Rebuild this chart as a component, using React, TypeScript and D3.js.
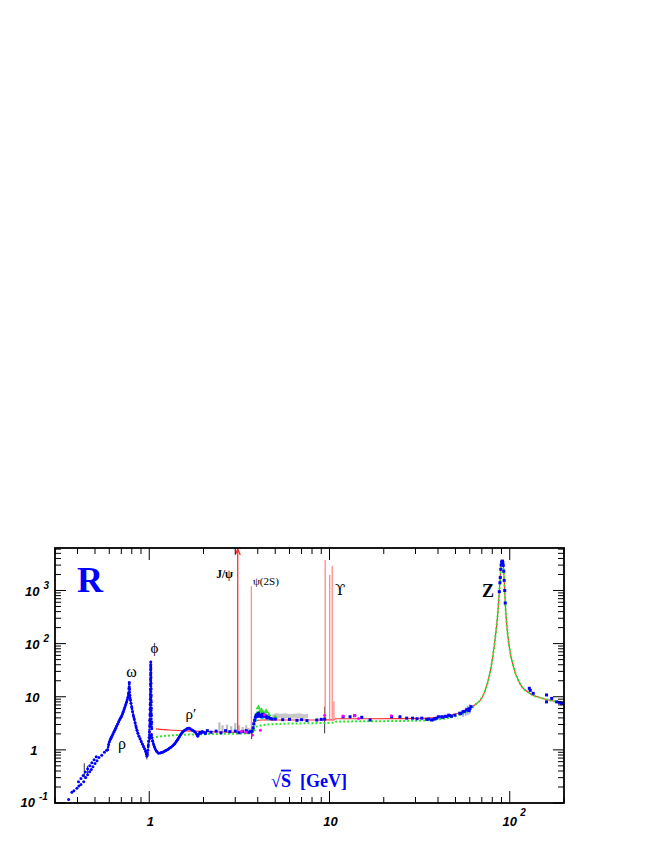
import React from 'react';
import * as d3 from 'd3';

type P = [number, number];
type Bar = [number, number, number];

// ---------------- data (sqrt(s) in GeV, R) ----------------
const lowEnergyRow1: P[] = [
  [0.357, 0.117], [0.372, 0.159], [0.382, 0.17], [0.397, 0.189], [0.407, 0.208], [0.418, 0.224],
  [0.433, 0.251], [0.444, 0.303], [0.455, 0.34], [0.467, 0.387], [0.477, 0.429], [0.487, 0.48],
  [0.5, 0.556], [0.513, 0.622], [0.526, 0.72], [0.545, 0.796], [0.564, 0.905], [0.58, 0.98],
];
const lowEnergyRow2: P[] = [
  [0.405, 0.25], [0.418, 0.29], [0.43, 0.33], [0.442, 0.385], [0.455, 0.44], [0.468, 0.5],
  [0.48, 0.57], [0.494, 0.65], [0.508, 0.74],
];
const hadronScan: P[] = [
  [0.588, 1.0], [0.595, 1.25], [0.6, 1.4], [0.607, 1.55], [0.613, 1.65], [0.62, 1.78], [0.628, 1.95],
  [0.636, 2.15], [0.644, 2.35], [0.652, 2.55], [0.66, 2.8], [0.668, 3.05], [0.676, 3.35], [0.684, 3.65],
  [0.692, 3.95], [0.7, 4.2], [0.708, 4.6], [0.716, 5.1], [0.724, 5.7], [0.732, 6.3], [0.74, 7.1],
  [0.748, 7.9], [0.755, 8.8], [0.762, 9.8], [0.768, 11.5], [0.772, 14.5], [0.775, 18.5], [0.778, 14],
  [0.781, 10.5], [0.786, 8.8], [0.792, 7.5], [0.8, 6.3], [0.808, 5.2], [0.816, 4.4], [0.825, 3.8],
  [0.835, 3.2], [0.845, 2.7], [0.855, 2.35], [0.865, 2.05], [0.877, 1.8], [0.89, 1.6], [0.903, 1.42],
  [0.916, 1.28], [0.93, 1.15], [0.943, 1.04], [0.955, 0.93], [0.963, 0.84], [0.97, 0.76], [0.976, 0.82],
  [0.982, 0.98], [0.988, 1.2], [0.993, 1.45],
  [1.028, 1.95], [1.035, 1.7], [1.045, 1.45], [1.058, 1.25], [1.07, 1.12], [1.085, 1.0], [1.1, 0.93],
  [1.115, 0.88], [1.13, 0.86], [1.15, 0.87], [1.17, 0.89], [1.19, 0.9], [1.21, 0.93], [1.23, 0.96],
  [1.25, 0.99], [1.27, 1.02], [1.29, 1.06], [1.31, 1.1], [1.33, 1.14], [1.35, 1.19], [1.37, 1.25],
  [1.39, 1.32], [1.41, 1.42], [1.43, 1.52], [1.45, 1.64], [1.47, 1.77], [1.49, 1.9], [1.51, 2.03],
  [1.53, 2.15], [1.55, 2.25], [1.57, 2.33], [1.6, 2.42], [1.63, 2.52], [1.66, 2.55], [1.69, 2.48],
  [1.72, 2.38], [1.75, 2.3], [1.78, 2.22], [1.81, 2.1], [1.84, 1.92], [1.86, 1.8], [1.88, 1.95],
  [1.91, 2.15], [1.94, 2.05], [1.97, 2.2], [2.0, 2.15],
];
const phiScan: P[] = [
  [0.998, 1.7], [1.002, 2.2], [1.005, 2.8], [1.007, 3.6], [1.009, 4.6], [1.011, 5.8], [1.012, 7.2],
  [1.013, 9], [1.014, 11], [1.015, 13.5], [1.016, 17], [1.017, 21], [1.018, 26], [1.019, 32],
  [1.0195, 38], [1.02, 45], [1.0205, 40], [1.021, 34], [1.0215, 28], [1.022, 23], [1.023, 18],
  [1.024, 14], [1.025, 10.5], [1.026, 8], [1.027, 6], [1.028, 4.5], [1.03, 3.3], [1.033, 2.5],
];
const thresholdBlue: P[] = [
  [2.05, 2.05], [2.1, 2.3], [2.2, 2.15], [2.35, 2.25], [2.5, 2.1], [2.65, 2.3], [2.8, 2.2], [3.0, 2.25],
  [3.15, 2.1], [3.3, 2.2], [3.45, 2.3], [3.55, 2.15], [3.65, 2.2], [3.72, 2.25], [3.77, 2.6], [3.8, 3.1],
  [3.84, 3.6], [3.88, 4.1], [3.92, 4.5], [3.96, 4.3], [4.0, 4.6], [4.03, 4.9], [4.06, 4.6], [4.1, 4.3],
  [4.14, 4.5], [4.18, 4.2], [4.22, 4.4], [4.26, 4.7], [4.3, 4.5], [4.35, 4.3], [4.4, 4.5], [4.45, 4.2],
  [4.5, 4.0], [4.6, 4.1], [4.7, 3.9], [4.8, 3.8], [5.0, 3.8], [5.5, 3.7], [6.0, 3.75], [6.6, 3.6],
  [7.0, 3.7], [7.5, 3.55], [8.5, 3.65], [9.0, 3.75],
];
const highEnergyBlue: P[] = [
  [9.4, 3.8], [11.9, 4.2], [13.0, 4.2], [13.8, 4.4], [15.1, 4.1], [16.8, 3.65], [22.1, 4.2], [24.6, 4.2],
  [26.8, 3.95], [28.9, 3.95], [30.6, 3.85], [32.5, 3.95], [34.6, 3.75], [35.5, 3.8], [36.8, 3.65],
  [37.5, 3.7], [38.4, 3.85], [39.4, 3.95], [40.2, 4.2], [41.9, 4.2], [42.5, 4.1], [43.8, 4.3],
  [44.5, 4.25], [45.8, 4.5], [46.5, 4.4], [47.5, 4.3], [49.6, 4.5], [52.8, 4.9], [53.5, 4.8],
  [55.0, 5.2], [56.0, 5.3], [57.5, 5.6], [58.5, 5.8], [59.5, 5.5], [60.1, 6.0], [61.0, 6.5],
];
const zPeakBlue: P[] = [
  [87.5, 950], [88.2, 1400], [88.6, 1750], [89.2, 2500], [89.6, 3000], [90.2, 3400], [90.6, 3550],
  [91.2, 3550], [91.6, 3300], [92.0, 2950], [92.6, 2300], [93.2, 1550], [93.8, 1000], [94.4, 580],
];
const aboveZBlue: P[] = [
  [128.4, 14.4], [130, 13.2], [135, 11.6], [160, 10.8], [160, 8.0], [171, 9.3], [182, 8.0], [189, 7.8], [194, 7.5],
];
const greenTriangles: P[] = [
  [3.78, 2.4], [3.95, 4.7], [4.03, 6.2], [4.1, 5.2], [4.2, 5.5], [4.3, 4.8], [4.45, 5.3], [4.6, 4.6], [5.0, 4.1],
];
const magentaPoints: P[] = [
  [3.25, 2.25], [3.45, 2.15], [3.74, 1.9], [4.14, 2.35], [4.35, 4.6], [9.4, 4.5], [11.9, 4.35],
  [13.8, 4.45], [14.5, 3.9], [22, 4.4],
];
const cyanPoints: P[] = [
  [3.82, 3.0], [3.9, 3.6], [4.0, 4.2], [4.25, 4.0], [4.6, 3.8],
];
const grayBars: Bar[] = [
  [2.45, 2.3, 3.3], [2.55, 2.2, 2.9], [2.7, 2.1, 3.0], [2.85, 2.2, 2.8], [3.0, 2.1, 3.2],
  [3.15, 2.2, 2.9], [3.3, 2.1, 2.7], [3.45, 2.2, 2.9], [3.55, 2.1, 2.6], [3.62, 2.0, 2.5],
];
const grayBand: Bar[] = [
  [4.8, 3.9, 4.6], [5.1, 3.9, 4.9], [5.4, 4.0, 4.8], [5.7, 3.9, 4.9], [6.0, 4.0, 4.7],
  [6.4, 3.9, 4.8], [6.8, 4.0, 4.9], [7.2, 3.9, 4.7], [7.6, 4.0, 4.8],
];
const lightBlueBars: Bar[] = [
  [55, 4.2, 5.6], [57, 4.4, 6.2], [58.5, 4.6, 6.8], [60, 4.8, 7.2],
];
const darkBars: Bar[] = [
  [0.436, 0.29, 0.56], [0.455, 0.33, 0.5], [0.97, 0.66, 0.9], [3.7, 1.6, 2.7], [9.4, 2.05, 6.5],
];
const qcdLow: P[] = [
  [1.09, 2.48], [1.3, 2.36], [1.6, 2.28], [2.0, 2.22], [2.5, 2.17], [3.0, 2.14], [3.5, 2.12],
  [3.74, 2.12], [3.8, 3.1], [3.9, 3.5], [4.2, 3.65], [6, 3.66], [9, 3.66], [10.6, 3.67], [10.8, 3.85],
  [15, 3.86], [25, 3.88], [35, 3.95], [40, 4.1], [45, 4.35], [50, 4.75], [55, 5.3], [60, 6.1],
];
const partonLow: P[] = [
  [1.09, 1.75], [1.4, 1.9], [2, 1.97], [3, 2.02], [3.72, 2.03], [3.76, 2.3], [3.9, 2.7], [4.2, 2.9],
  [4.6, 3.0], [5.5, 3.1], [7, 3.15], [9, 3.2], [10.6, 3.25], [10.8, 3.4], [15, 3.45], [25, 3.5],
  [35, 3.6], [40, 3.75], [45, 3.95], [50, 4.3], [55, 4.8], [60, 5.6],
];
const zLineshape: P[] = [
  [65, 7.3], [68.6, 8.6], [73, 13], [77.3, 26], [80.7, 60], [83.8, 165], [86, 400], [87.5, 950],
  [88.6, 1750], [89.6, 3000], [90.6, 3550], [91.4, 3450], [92.2, 2800], [93.2, 1550], [94.4, 580],
  [96.5, 205], [99.4, 88], [105, 36], [114, 17.6], [130, 11.4], [154, 9.2], [200, 7.7],
];
const resonances = [
  { name: 'J/ψ', mass: 3.097, base: 2.13, peak: 1e5 },
  { name: 'ψ(2S)', mass: 3.686, base: 2.12, peak: 1200 },
  { name: 'ϒ(1S)', mass: 9.46, base: 3.66, peak: 3750 },
  { name: 'ϒ(2S)', mass: 10.023, base: 3.66, peak: 1950 },
  { name: 'ϒ(3S)', mass: 10.355, base: 3.66, peak: 2900 },
  { name: 'ϒ(4S)', mass: 10.58, base: 3.66, peak: 8.1 },
];
const yDecades = [-1, 0, 1, 2, 3];
const xDecades = [0, 1, 2];

// annotation anchors in (GeV, R)
const annotations = [
  { text: 'ω', gev: 0.797, r: 23.8, anchor: 'middle', size: 16, weight: 'normal', family: 'serif' },
  { text: 'ϕ', gev: 1.069, r: 67.5, anchor: 'middle', size: 15, weight: 'normal', family: 'serif' },
  { text: 'ρ', gev: 0.706, r: 1.02, anchor: 'middle', size: 16, weight: 'normal', family: 'serif' },
  { text: 'ρ′', gev: 1.704, r: 3.75, anchor: 'middle', size: 15, weight: 'normal', family: 'serif' },
  { text: 'J/ψ', gev: 2.915, r: 1718, anchor: 'end', size: 11.5, weight: 'bold', family: 'serif' },
  { text: 'ψ(2S)', gev: 3.763, r: 1268, anchor: 'start', size: 11, weight: 'normal', family: 'serif' },
  { text: 'ϒ', gev: 10.73, r: 822, anchor: 'start', size: 15, weight: 'normal', family: 'dejavu' },
  { text: 'Z', gev: 75.8, r: 764, anchor: 'middle', size: 18, weight: 'bold', family: 'serif' },
];

const FRAME = { left: 55, right: 564, top: 548, bottom: 803 };
const SERIF = '"Liberation Serif", "Times New Roman", "DejaVu Serif", serif';
const SANS = '"Liberation Sans", Arial, Helvetica, sans-serif';
const BLUE = '#0000ff';

export default function App() {
  const x = d3.scaleLog().domain([0.3, 200]).range([FRAME.left, FRAME.right]);
  const y = d3.scaleLog().domain([0.1, 6300]).range([FRAME.bottom, FRAME.top]);
  const line = d3.line<P>().x(d => x(d[0])).y(d => y(d[1]));
  const smooth = d3.line<P>().x(d => x(d[0])).y(d => y(d[1])).curve(d3.curveMonotoneX);
  const band = d3.area<Bar>().x(d => x(d[0])).y0(d => y(d[1])).y1(d => y(d[2])).curve(d3.curveMonotoneX);
  const tri = d3.symbol().type(d3.symbolTriangle).size(13)();

  const xTicks: { v: number; major: boolean }[] = [];
  [0.1, 1, 10, 100].forEach(dec => {
    for (let m = 1; m <= 9; m++) {
      const v = m * dec;
      if (v >= 0.3 * 0.999 && v <= 200 * 1.001) xTicks.push({ v, major: m === 1 });
    }
  });
  const yTicks: { v: number; major: boolean }[] = [];
  [0.1, 1, 10, 100, 1000].forEach(dec => {
    for (let m = 1; m <= 9; m++) {
      const v = m * dec;
      if (v <= 6300) yTicks.push({ v, major: m === 1 });
    }
  });

  const qcd = [...qcdLow, ...zLineshape];
  const parton = [...partonLow, ...zLineshape];
  const yTop = y.domain()[1];

  return (
    <svg width={654} height={846} style={{ position: 'absolute', left: 0, top: 0, background: '#fff' }}>
      <defs>
        <clipPath id="frameClip">
          <rect x={FRAME.left} y={FRAME.top} width={FRAME.right - FRAME.left} height={FRAME.bottom - FRAME.top} />
        </clipPath>
      </defs>
      <rect x={0} y={0} width={654} height={846} fill="#fff" />
      <g clipPath="url(#frameClip)">
        {grayBars.map((b, i) => (
          <line key={'gb' + i} x1={x(b[0])} x2={x(b[0])} y1={y(b[1])} y2={y(b[2])} stroke="#bdbdbd" strokeWidth={2.2} />
        ))}
        <path d={band(grayBand) || ''} fill="#c8c8c8" />
        {lightBlueBars.map((b, i) => (
          <line key={'lb' + i} x1={x(b[0])} x2={x(b[0])} y1={y(b[1])} y2={y(b[2])} stroke="#9a9aff" strokeWidth={1.6} />
        ))}
        {darkBars.map((b, i) => (
          <line key={'db' + i} x1={x(b[0])} x2={x(b[0])} y1={y(b[1])} y2={y(b[2])} stroke="#333" strokeWidth={1} />
        ))}
        <path d={smooth(qcd) || ''} fill="none" stroke="#ff2a2a" strokeWidth={1.1} />
        {resonances.map((r, i) => (
          <line key={'res' + i} x1={x(r.mass)} x2={x(r.mass)} y1={y(r.base)} y2={y(Math.min(r.peak, yTop * 1.2))}
            stroke={i === 0 ? '#ff2020' : '#ff8a8a'} strokeWidth={i === 0 ? 1.2 : 1.3} />
        ))}
        {resonances.filter(r => r.peak > yTop).map((r, i) => (
          <path key={'arr' + i}
            d={`M${x(r.mass) - 2.6},${FRAME.top + 7} L${x(r.mass)},${FRAME.top + 1.2} L${x(r.mass) + 2.6},${FRAME.top + 7}`}
            fill="none" stroke="#ff2020" strokeWidth={1.2} />
        ))}
        <path d={smooth(parton) || ''} fill="none" stroke="#2ee62e" strokeWidth={2} strokeDasharray="2 2" />
        <path d={line(hadronScan) || ''} fill="none" stroke={BLUE} strokeWidth={2.6} strokeDasharray="0.1 2.7" strokeLinecap="round" />
        <path d={line(phiScan) || ''} fill="none" stroke={BLUE} strokeWidth={2.5} strokeDasharray="0.1 2.6" strokeLinecap="round" />
        {[...hadronScan, ...phiScan].map((p, i) => (
          <circle key={'h' + i} cx={x(p[0])} cy={y(p[1])} r={1.45} fill={BLUE} />
        ))}
        {[...lowEnergyRow1, ...lowEnergyRow2].map((p, i) => (
          <circle key={'l' + i} cx={x(p[0])} cy={y(p[1])} r={1.5} fill={BLUE} />
        ))}
        {cyanPoints.map((p, i) => (
          <circle key={'c' + i} cx={x(p[0])} cy={y(p[1])} r={1.4} fill="#00e0e0" />
        ))}
        {greenTriangles.map((p, i) => (
          <path key={'t' + i} d={tri || ''} transform={`translate(${x(p[0])},${y(p[1])})`} fill="#33dd33" />
        ))}
        {[...thresholdBlue, ...highEnergyBlue, ...zPeakBlue, ...aboveZBlue].map((p, i) => (
          <rect key={'b' + i} x={x(p[0]) - 1.5} y={y(p[1]) - 1.5} width={3} height={3} fill={BLUE} />
        ))}
        {magentaPoints.map((p, i) => (
          <circle key={'m' + i} cx={x(p[0])} cy={y(p[1])} r={1.5} fill="#ff00ff" />
        ))}
      </g>

      {annotations.map((a, i) => (
        <text key={'an' + i} x={x(a.gev)} y={y(a.r)} textAnchor={a.anchor as any} fontSize={a.size}
          fontWeight={a.weight} fill="#000"
          fontFamily={a.family === 'dejavu' ? '"DejaVu Serif", serif' : SERIF}>{a.text}</text>
      ))}
      <text x={x(0.397)} y={y(935)} fontFamily={SERIF} fontWeight="bold" fontSize={36} fill={BLUE}>R</text>
      <text x={x(4.74)} y={y(0.203)} fontFamily={SERIF} fontWeight="bold" fontSize={18} fill={BLUE}>
        √<tspan style={{ textDecoration: 'overline' }}>S</tspan><tspan dx={9}>[GeV]</tspan>
      </text>

      <g stroke="#000" strokeWidth={1}>
        {xTicks.map((t, i) => {
          const len = t.major ? 12 : 6;
          const xx = x(t.v);
          return (
            <g key={'xt' + i}>
              <line x1={xx} x2={xx} y1={FRAME.bottom} y2={FRAME.bottom - len} />
              <line x1={xx} x2={xx} y1={FRAME.top} y2={FRAME.top + len} />
            </g>
          );
        })}
        {yTicks.map((t, i) => {
          const len = t.major ? 11 : 6;
          const yy = y(t.v);
          return (
            <g key={'yt' + i}>
              <line x1={FRAME.left} x2={FRAME.left + len} y1={yy} y2={yy} />
              <line x1={FRAME.right} x2={FRAME.right - len} y1={yy} y2={yy} />
            </g>
          );
        })}
      </g>
      <rect x={FRAME.left} y={FRAME.top} width={FRAME.right - FRAME.left} height={FRAME.bottom - FRAME.top}
        fill="none" stroke="#000" strokeWidth={1.8} />

      {yDecades.map(d => {
        const yy = y(Math.pow(10, d));
        const base = d === -1 ? yy + 4 : yy + 5.5;
        if (d === 0) return <text key={'yl' + d} x={37.5} y={base} textAnchor="end" fontFamily={SANS} fontWeight="bold" fontStyle="italic" fontSize={13}>1</text>;
        if (d === 1) return <text key={'yl' + d} x={39.5} y={base} textAnchor="end" fontFamily={SANS} fontWeight="bold" fontStyle="italic" fontSize={13}>10</text>;
        const ex = String(d);
        const endX = ex.length > 1 ? 35 : 39.5;
        return (
          <g key={'yl' + d} fontFamily={SANS} fontWeight="bold" fontStyle="italic">
            <text x={endX} y={base} textAnchor="end" fontSize={13}>10</text>
            <text x={endX + 4} y={base - 7} fontSize={10}>{ex}</text>
          </g>
        );
      })}
      {xDecades.map(d => {
        const xx = x(Math.pow(10, d));
        const base = 826;
        if (d < 2) return <text key={'xl' + d} x={xx + 1} y={base} textAnchor="middle" fontFamily={SANS} fontWeight="bold" fontStyle="italic" fontSize={13}>{d === 0 ? '1' : '10'}</text>;
        return (
          <g key={'xl' + d} fontFamily={SANS} fontWeight="bold" fontStyle="italic">
            <text x={xx} y={base} textAnchor="middle" fontSize={13}>10</text>
            <text x={xx + 10.5} y={base - 10} fontSize={10}>{String(d)}</text>
          </g>
        );
      })}
    </svg>
  );
}
